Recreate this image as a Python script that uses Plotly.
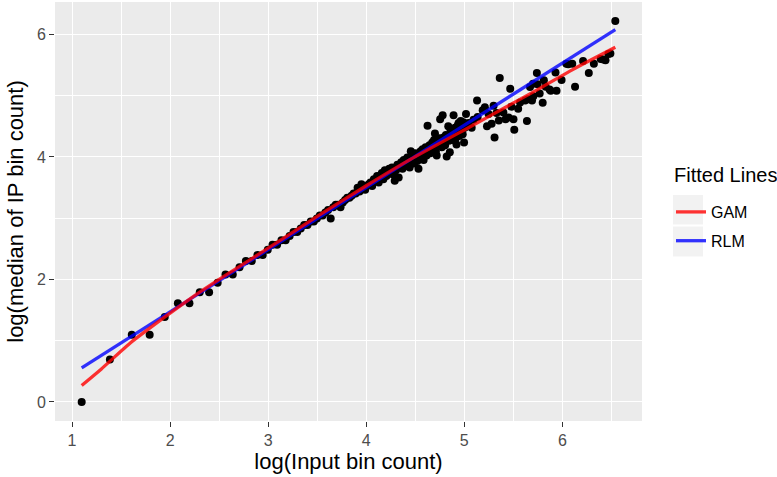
import numpy as np
import plotly.graph_objects as go

# ---- data (counts; axes show their natural log) ----
input_bin_count = [
    3, 4, 5, 6, 7, 8, 9, 10, 11, 12, 13, 14, 15,
    16, 17, 18, 19, 20, 21, 22, 23, 24, 25,
    26, 27, 28, 29, 30, 31, 32, 33, 34, 35,
    36, 37, 38, 39, 40, 41, 42, 43, 44, 45,
    46, 47, 48, 49, 50, 51, 52, 53, 54, 55,
    56, 57, 58, 59, 60, 61, 62, 63, 64, 65,
    66, 67, 68, 69, 70, 71, 72, 73, 74, 75,
    76, 77, 78, 79, 80, 81, 82, 83, 84, 85,
    86, 87, 88, 89, 90, 91, 92, 93, 94, 95,
    96, 97, 98, 99, 100, 101, 102, 103, 104, 105,
    106, 107, 108, 109, 110, 111, 112, 113, 114, 115,
    116, 117, 118, 119, 120, 121, 122, 123, 124, 125,
    126, 127, 128, 129, 130, 131, 132, 133, 134, 135,
    136, 137, 138, 139, 140, 141, 142, 143, 144, 145,
    146, 147, 148, 149, 150, 151,
    155, 160, 163, 169, 170, 179, 183, 187, 190, 196,
    200, 202, 206, 211, 213, 221, 226, 233, 237, 240,
    245, 247, 257, 262, 276, 281, 284, 290, 296, 299,
    300, 311, 313, 320, 330, 334, 340, 354, 358, 376,
    380, 400, 420, 428, 446, 459, 498, 528, 556, 596,
    613, 626, 645, 658, 692,
]
median_ip_count = [
    1, 2, 3, 3, 4, 5, 5, 6, 6, 7, 8, 8, 9,
    10, 10, 11, 11, 12, 13, 13, 14, 14, 15,
    16, 16, 17, 18, 18, 19, 19, 20, 21, 21,
    22, 23, 20, 24, 25, 25, 24, 26, 27, 28,
    28, 29, 30, 30, 33, 31, 35, 33, 32, 34,
    35, 36, 34, 38, 37, 40, 36, 39, 42, 38,
    44, 40, 41, 45, 42, 46, 41, 37, 44, 48,
    39, 47, 50, 45, 52, 48, 47, 54, 50, 46,
    60, 52, 55, 49, 58, 53, 51, 45, 57, 60,
    54, 62, 52, 58, 64, 56, 91, 60, 66, 58,
    63, 69, 61, 72, 80, 60, 56, 70, 67, 74,
    101, 68, 64, 108, 75, 70, 66, 78, 55, 73,
    90, 71, 59, 84, 76, 82, 72, 108, 79, 88,
    74, 67, 85, 92, 95, 77, 94, 98, 86, 90,
    79, 96, 69, 88, 93, 110,
    95, 88, 100, 137, 105, 117, 123, 90, 110, 94,
    126, 75, 112, 99, 198, 113, 101, 104, 166, 124,
    101, 85, 120, 133, 137, 98, 140, 171, 137, 180,
    147, 215, 179, 154, 132, 191, 172, 164, 161, 217,
    161, 192, 250, 248, 250, 172, 262, 215, 250, 270,
    268, 265, 293, 296, 502,
]

# fitted curves (already on log scale)
gam_x = [1.0986, 1.30, 1.60, 1.94, 2.20, 2.50, 3.00, 3.50, 4.00, 4.45, 4.86, 5.00, 5.43, 5.77, 6.11, 6.5396]
gam_y = [0.27, 0.54, 0.97, 1.38, 1.68, 2.00, 2.51, 3.03, 3.53, 3.96, 4.32, 4.44, 4.82, 5.12, 5.43, 5.79]
rlm_x = [1.0986, 6.5396]
rlm_y = [0.557, 6.08]

legend_title = "Fitted Lines"
legend_names = ["GAM", "RLM"]
legend_colors = ["rgba(255,0,0,0.8)", "rgba(0,0,255,0.8)"]

x = np.log(np.array(input_bin_count, dtype=float))
y = np.log(np.array(median_ip_count, dtype=float))

fig = go.Figure()
fig.add_trace(go.Scatter(x=x, y=y, mode="markers",
                         marker=dict(color="black", size=8, line=dict(width=0)),
                         showlegend=False, hoverinfo="x+y"))
fig.add_trace(go.Scatter(x=rlm_x, y=rlm_y, mode="lines", name=legend_names[1],
                         line=dict(color=legend_colors[1], width=3.3),
                         legendgroup="rlm", legendrank=2))
fig.add_trace(go.Scatter(x=gam_x, y=gam_y, mode="lines", name=legend_names[0],
                         line=dict(color=legend_colors[0], width=3.3, shape="spline", smoothing=0.6),
                         legendgroup="gam", legendrank=1))

# ggplot-like expansion of 5%
xr = [x.min(), x.max()]
yr = [y.min(), y.max()]
xpad = 0.05 * (xr[1] - xr[0])
ypad = 0.05 * (yr[1] - yr[0])

W, H = 777, 477
ML, MR, MT, MB = 55, 135, 2, 56
pw = W - ML - MR
ph = H - MT - MB

def px2paper_x(px):
    return (px - ML) / pw

def px2paper_y(py):
    return (H - MB - py) / ph

axis_common = dict(
    showgrid=True, gridcolor="white", gridwidth=1.4,
    zeroline=False, showline=False,
    ticks="outside", ticklen=5, tickwidth=1.1, tickcolor="#333333",
    tickfont=dict(size=16, color="#4D4D4D"),
)

fig.update_xaxes(range=[xr[0] - xpad, xr[1] + xpad], tickvals=[1, 2, 3, 4, 5, 6],
                 minor=dict(tickvals=[0.5, 1.5, 2.5, 3.5, 4.5, 5.5, 6.5], showgrid=True,
                            gridcolor="white", gridwidth=0.7, ticks=""),
                 title=dict(text="log(Input bin count)", font=dict(size=22, color="black"), standoff=5),
                 **axis_common)
fig.update_yaxes(range=[yr[0] - ypad, yr[1] + ypad], tickvals=[0, 2, 4, 6],
                 minor=dict(tickvals=[1, 3, 5], showgrid=True,
                            gridcolor="white", gridwidth=0.7, ticks=""),
                 title=dict(text="log(median of IP bin count)", font=dict(size=22, color="black"), standoff=7),
                 **axis_common)

# legend key backgrounds (ggplot style)
shapes = []
for top, bot in [(195, 224.5), (226.5, 256.5)]:
    shapes.append(dict(type="rect", xref="paper", yref="paper",
                       x0=px2paper_x(673), x1=px2paper_x(703),
                       y0=px2paper_y(bot), y1=px2paper_y(top),
                       fillcolor="#F2F2F2", line=dict(width=0), layer="below"))

fig.update_layout(
    width=W, height=H,
    margin=dict(l=ML, r=MR, t=MT, b=MB, autoexpand=False),
    paper_bgcolor="white", plot_bgcolor="#EBEBEB",
    font=dict(family="Liberation Sans, Arial, sans-serif", color="black"),
    shapes=shapes,
    annotations=[dict(text=legend_title, xref="paper", yref="paper",
                      x=px2paper_x(672), y=px2paper_y(175), xanchor="left", yanchor="middle",
                      showarrow=False, font=dict(size=20, color="black"))],
    legend=dict(font=dict(size=16, color="black"),
                x=px2paper_x(671), y=px2paper_y(195), xanchor="left", yanchor="top",
                tracegroupgap=5, bgcolor="rgba(0,0,0,0)", itemwidth=30),
)

fig.write_html("out.html")
